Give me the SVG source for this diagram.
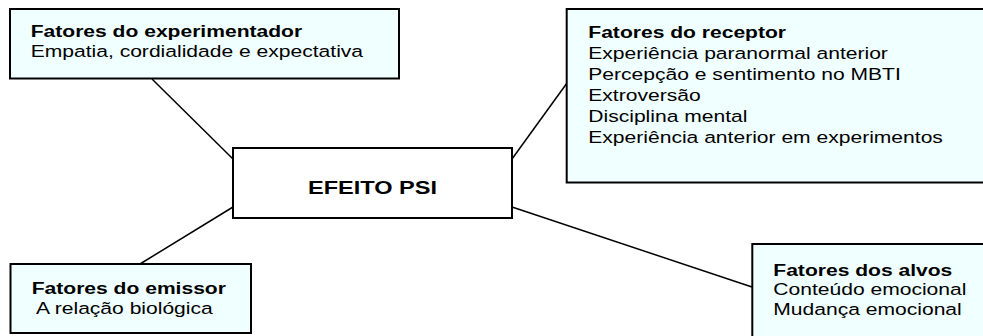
<svg xmlns="http://www.w3.org/2000/svg" width="983" height="336" viewBox="0 0 983 336">
<style>
.box{fill:#F0FFFF;stroke:#000;stroke-width:2}
.center{fill:#FFFFFF;stroke:#000;stroke-width:2}
.conn{stroke:#000;stroke-width:1.5;fill:none}
text{font-family:"Liberation Sans",Arial,sans-serif;font-size:17px;fill:#000}
.b{font-weight:bold}
.big{font-weight:bold;font-size:19px;text-anchor:middle}
</style>
<rect width="983" height="336" fill="#FFFFFF"/>
<g id="connectors">
<line class="conn" x1="152" y1="79" x2="233" y2="159"/>
<line class="conn" x1="140" y1="264" x2="233" y2="207"/>
<line class="conn" x1="512" y1="159" x2="567" y2="83"/>
<line class="conn" x1="512" y1="207" x2="752" y2="287"/>
</g>
<g id="experimentador">
<rect class="box" x="10" y="9" width="389" height="69.5"/>
<g transform="translate(30.7 0) scale(1.24 1)">
<text class="b" x="0" y="37.3">Fatores do experimentador</text>
<text x="0" y="57.3">Empatia, cordialidade e expectativa</text>
</g>
</g>
<g id="receptor">
<rect class="box" x="566.7" y="9" width="420" height="173.5"/>
<g transform="translate(588.3 0) scale(1.24 1)">
<text class="b" x="0" y="38">Fatores do receptor</text>
<text x="0" y="59">Experiência paranormal anterior</text>
<text x="0" y="80">Percepção e sentimento no MBTI</text>
<text x="0" y="101">Extroversão</text>
<text x="0" y="122">Disciplina mental</text>
<text x="0" y="143">Experiência anterior em experimentos</text>
</g>
</g>
<g id="efeito-psi">
<rect class="center" x="233" y="148" width="279" height="70"/>
<g transform="translate(372.5 0) scale(1.24 1)">
<text class="big" x="0" y="194">EFEITO PSI</text>
</g>
</g>
<g id="emissor">
<rect class="box" x="10.5" y="264" width="240.5" height="69"/>
<g transform="translate(31.7 0) scale(1.24 1)">
<text class="b" x="0" y="294.3">Fatores do emissor</text>
</g>
<g transform="translate(36 0) scale(1.24 1)">
<text x="0" y="314">A relação biológica</text>
</g>
</g>
<g id="alvos">
<rect class="box" x="752.3" y="244" width="240" height="100"/>
<g transform="translate(773.3 0) scale(1.24 1)">
<text class="b" x="0" y="276">Fatores dos alvos</text>
<text x="0" y="295.5">Conteúdo emocional</text>
<text x="0" y="315">Mudança emocional</text>
</g>
</g>
</svg>
